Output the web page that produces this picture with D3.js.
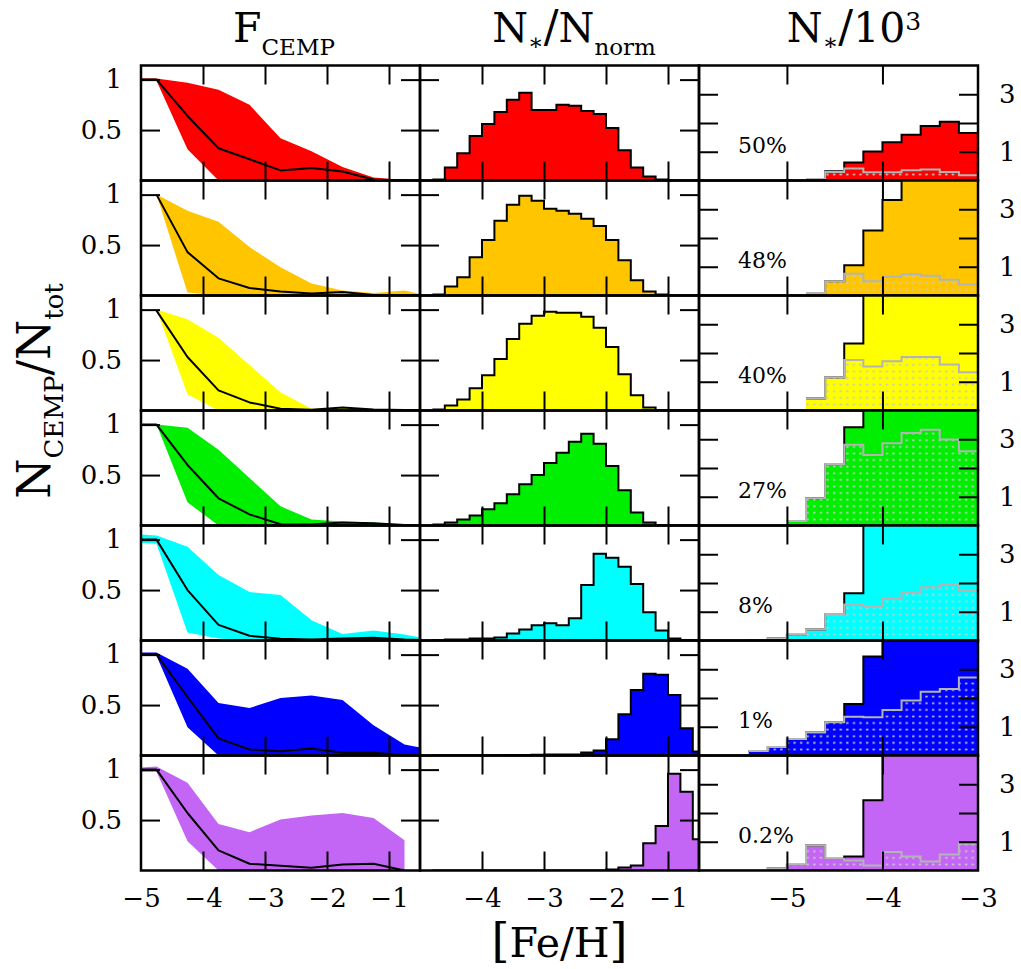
<!DOCTYPE html>
<html><head><meta charset="utf-8">
<script src="https://cdn.jsdelivr.net/npm/d3@7"></script>
<style>
body{margin:0;background:#fff}
svg{display:block}
text{font-family:"DejaVu Serif",serif;fill:#000}
</style>
</head><body>
<svg id="c" width="1021" height="969"></svg>
<script>
// ---------------- DATA ----------------
const rowColors = ["#ff0000","#ffc600","#ffff00","#00ee00","#00ffff","#0000ff","#c466f5"];
const cempPercent = ["50%","48%","40%","27%","8%","1%","0.2%"];

// Column 1: F_CEMP vs [Fe/H]
const fcempX = [-5, -4.75, -4.25, -3.75, -3.25, -2.75, -2.25, -1.75, -1.25, -0.75, -0.5];
const fcempMed = [
  [1, 1, 0.64, 0.32, 0.21, 0.10, 0.125, 0.09, 0.01, 0, 0],
  [null, 1, 0.43, 0.17, 0.075, 0.04, 0.02, 0.035, 0.005, 0, 0],
  [null, 0.99, 0.53, 0.20, 0.08, 0.017, 0.007, 0.03, 0.01, 0.005, 0.005],
  [1, 1, 0.60, 0.27, 0.11, 0.013, 0.01, 0.03, 0.023, 0.005, 0],
  [1, 1, 0.50, 0.155, 0.047, 0.017, 0.01, 0.02, 0.027, 0.01, 0.005],
  [1, 1, 0.58, 0.17, 0.06, 0.043, 0.07, 0.027, 0.027, 0.003, 0],
  [1, 1, 0.57, 0.20, 0.067, 0.047, 0.027, 0.06, 0.067, 0, null]
];
const fcempHi = [
  [1.01, 1.01, 0.97, 0.90, 0.75, 0.42, 0.29, 0.135, 0.03, 0.005, 0],
  [null, 1, 0.84, 0.73, 0.48, 0.28, 0.12, 0.05, 0.025, 0.05, 0.015],
  [null, 1, 0.905, 0.72, 0.45, 0.18, 0.017, 0.03, 0.015, 0.01, 0.017],
  [1, 1, 0.97, 0.75, 0.47, 0.19, 0.06, 0.04, 0.03, 0.01, 0.005],
  [1.05, 1.04, 0.93, 0.65, 0.48, 0.45, 0.20, 0.064, 0.098, 0.06, 0.03],
  [1.02, 1.02, 0.86, 0.52, 0.47, 0.57, 0.595, 0.55, 0.30, 0.11, 0.08],
  [1.02, 1.03, 0.87, 0.46, 0.38, 0.505, 0.545, 0.57, 0.52, 0.30, null]
];
const fcempLo = [
  [0.99, 0.99, 0.31, 0, 0, 0, 0, 0, 0, 0, 0],
  [null, 1, 0.03, 0, 0, 0, 0, 0, 0, 0, 0],
  [null, 1, 0.16, 0, 0, 0, 0, 0, 0, 0, 0],
  [1, 1, 0.23, 0, 0, 0, 0, 0, 0, 0, 0],
  [0.97, 0.96, 0.08, 0.02, 0, 0, 0, 0, 0, 0, 0],
  [0.99, 0.99, 0.28, 0, 0, 0, 0, 0, 0, 0, 0],
  [0.98, 0.98, 0.29, 0, 0, 0, 0, 0, 0, 0, null]
];

// Column 2: N*/Nnorm histograms (bin left edges, width 0.2)
const normBins = [-4.8,-4.6,-4.4,-4.2,-4.0,-3.8,-3.6,-3.4,-3.2,-3.0,-2.8,-2.6,-2.4,-2.2,-2.0,-1.8,-1.6,-1.4,-1.2,-1.0,-0.8,-0.6];
const normVals = [
  [0.01,0.13,0.27,0.44,0.56,0.68,0.80,0.87,0.70,0.70,0.75,0.74,0.69,0.66,0.52,0.30,0.13,0.04,0.01,0,0,0],
  [0.01,0.09,0.18,0.38,0.55,0.74,0.90,0.99,0.94,0.86,0.84,0.81,0.76,0.69,0.55,0.35,0.15,0.04,0.01,0,0,0],
  [0.01,0.05,0.11,0.22,0.35,0.51,0.71,0.86,0.94,0.98,0.97,0.97,0.93,0.82,0.63,0.36,0.15,0.03,0.003,0,0,0],
  [0.01,0.03,0.06,0.10,0.16,0.22,0.31,0.41,0.50,0.62,0.72,0.83,0.91,0.81,0.59,0.35,0.13,0.03,0.003,0,0,0],
  [0.003,0.01,0.01,0.02,0.02,0.03,0.07,0.11,0.15,0.17,0.15,0.22,0.55,0.86,0.82,0.73,0.56,0.28,0.10,0.02,0.005,0],
  [0,0,0,0,0,0.003,0.005,0.005,0.007,0.01,0.01,0.01,0.03,0.05,0.16,0.41,0.65,0.81,0.80,0.60,0.27,0.04],
  [0,0,0,0,0,0,0,0,0,0,0,0,0,0,0.01,0.03,0.05,0.27,0.44,0.96,0.78,0.31]
];

// Column 3: N*/10^3 histograms (bin left edges, width 0.2); total and CEMP
const numBins = [-6.0,-5.8,-5.6,-5.4,-5.2,-5.0,-4.8,-4.6,-4.4,-4.2,-4.0,-3.8,-3.6,-3.4,-3.2];
const numTotal = [
  [null,null,null,null,null,null,0.05,0.32,0.63,1.01,1.33,1.59,1.90,2.04,1.65],
  [null,null,null,null,null,null,0.09,0.5,1.05,2.26,3.32,4.6,5.2,5.6,5.9],
  [null,null,null,null,null,null,0.42,1.15,2.33,4.5,5.0,5.4,5.8,6.0,6.1],
  [null,null,null,null,null,0.16,0.95,2.14,3.42,4.6,5.2,5.6,6.0,6.2,6.3],
  [null,null,null,0.02,0.08,0.2,0.38,0.92,1.64,4.4,5.0,5.5,5.8,6.0,6.2],
  [null,null,null,0.16,0.30,0.57,0.80,1.16,1.79,3.44,4.5,5.0,5.4,5.7,6.0],
  [0.02,0.02,0.02,0.02,0.08,0.2,0.87,0.41,0.49,2.44,4.6,5.1,5.5,5.8,6.0]
];
const numCemp = [
  [null,null,null,null,null,null,0.05,0.30,0.42,0.29,0.29,0.36,0.38,0.30,0.18],
  [null,null,null,null,null,null,0.09,0.5,0.76,0.5,0.65,0.74,0.69,0.55,0.38],
  [null,null,null,null,null,null,0.42,1.15,1.76,1.53,1.71,1.86,1.86,1.6,1.33],
  [null,null,null,null,null,0.16,0.95,2.14,2.81,2.45,2.86,3.22,3.33,2.99,2.58],
  [null,null,null,0.02,0.08,0.2,0.38,0.92,1.25,1.18,1.45,1.68,1.85,1.93,1.76],
  [null,null,null,0.16,0.30,0.57,0.80,1.16,1.35,1.33,1.58,1.91,2.22,2.31,2.71],
  [0.02,0.02,0.02,0.02,0.08,0.2,0.87,0.41,0.35,0.17,0.64,0.49,0.31,0.56,0.93]
];

// Ticks and labels
const fehTicks = [-4,-3,-2,-1];
const fracTicks = [0.5, 1];
const fracLabels = ["0.5","1"];
const numXTicks = [-5,-4];
const numYTicks = [1,2,3];
const numYLabelTicks = [1,3];
const numYLabels = ["1","3"];
const col1XLabels = [-5,-4,-3,-2,-1];
const col2XLabels = [-4,-3,-2,-1];
const col3XLabels = [-5,-4,-3];

// ---------------- LAYOUT ----------------
const LEFT = 141, TOP = 65.5, PW = 279, PH = 115, TL = 19;
const BW = 0.2;
const minus = d => (d < 0 ? "\u2212" : "") + Math.abs(d);

const x1 = d3.scaleLinear().domain([-5, -0.5]).range([0, PW]);
const y1 = d3.scaleLinear().domain([0, 1.14]).range([PH, 0]);
const x3 = d3.scaleLinear().domain([-5.92, -3]).range([0, PW]);
const y3 = d3.scaleLinear().domain([0, 4]).range([PH, 0]);

const svg = d3.select("#c");
const defs = svg.append("defs");
defs.append("clipPath").attr("id","pclip").append("rect").attr("width",PW).attr("height",PH);
const pat = defs.append("pattern").attr("id","dots").attr("patternUnits","userSpaceOnUse")
  .attr("width",6.6).attr("height",6.6);
pat.append("rect").attr("x",2).attr("y",2.5).attr("width",2.3).attr("height",1.7).attr("fill","#c8c8c8");

function stepPoints(bins, vals) {
  const pts = bins.map((b,i)=>({x:b, v:vals[i]}));
  let last = -1;
  vals.forEach((v,i)=>{ if (v!=null) last = i; });
  pts.push({x: bins[last] + BW, v: vals[last]});
  return pts;
}

function frame(g, x, y, xt, yt) {
  g.append("g").call(d3.axisBottom(x).tickValues(xt).tickSize(TL).tickFormat(""));
  g.append("g").attr("transform",`translate(0,${PH})`).call(d3.axisTop(x).tickValues(xt).tickSize(TL).tickFormat(""));
  g.append("g").call(d3.axisRight(y).tickValues(yt).tickSize(TL).tickFormat(""));
  g.append("g").attr("transform",`translate(${PW},0)`).call(d3.axisLeft(y).tickValues(yt).tickSize(TL).tickFormat(""));
  g.selectAll(".domain").remove();
  g.selectAll(".tick line").attr("stroke","#000").attr("stroke-width",2);
  g.append("rect").attr("width",PW).attr("height",PH).attr("fill","none")
    .attr("stroke","#000").attr("stroke-width",2.5);
}

function styleAxis(sel, size) {
  sel.attr("font-family","DejaVu Serif, serif").attr("font-size",size);
  sel.select(".domain").remove();
  sel.selectAll("text").attr("fill","#000");
}

for (let r = 0; r < 7; r++) {
  const color = rowColors[r];
  const top = TOP + r*PH;

  // ---- column 1: F_CEMP bands ----
  const g1 = svg.append("g").attr("transform",`translate(${LEFT},${top})`);
  const c1 = g1.append("g").attr("clip-path","url(#pclip)");
  const pts = fcempX.map((x,i)=>({x, lo:fcempLo[r][i], hi:fcempHi[r][i], m:fcempMed[r][i]}));
  c1.append("path").datum(pts)
    .attr("d", d3.area().defined(d=>d.hi!=null).x(d=>x1(d.x)).y0(d=>y1(d.lo)).y1(d=>y1(d.hi)))
    .attr("fill", color);
  c1.append("path").datum(pts)
    .attr("d", d3.line().defined(d=>d.m!=null).x(d=>x1(d.x)).y(d=>y1(d.m)))
    .attr("fill","none").attr("stroke","#000").attr("stroke-width",2).attr("stroke-linejoin","round");
  frame(g1, x1, y1, fehTicks, fracTicks);
  styleAxis(g1.append("g").call(d3.axisLeft(y1).tickValues(fracTicks).tickSize(0).tickPadding(19)
    .tickFormat((d,i)=>fracLabels[i])), 26);

  // ---- column 2: normalised histograms ----
  const g2 = svg.append("g").attr("transform",`translate(${LEFT+PW},${top})`);
  const c2 = g2.append("g").attr("clip-path","url(#pclip)");
  const hp = stepPoints(normBins, normVals[r]);
  c2.append("path").datum(hp)
    .attr("d", d3.area().curve(d3.curveStepAfter).x(d=>x1(d.x)).y0(y1(0)).y1(d=>y1(d.v)))
    .attr("fill", color);
  c2.append("path").datum(hp)
    .attr("d", d3.line().curve(d3.curveStepAfter).x(d=>x1(d.x)).y(d=>y1(d.v)))
    .attr("fill","none").attr("stroke","#000").attr("stroke-width",2);
  frame(g2, x1, y1, fehTicks, fracTicks);

  // ---- column 3: number histograms ----
  const g3 = svg.append("g").attr("transform",`translate(${LEFT+2*PW},${top})`);
  const c3 = g3.append("g").attr("clip-path","url(#pclip)");
  const tp = stepPoints(numBins, numTotal[r]);
  const cp = stepPoints(numBins, numCemp[r]);
  const ar = d3.area().defined(d=>d.v!=null).curve(d3.curveStepAfter).x(d=>x3(d.x)).y0(y3(0)).y1(d=>y3(d.v));
  const ln = d3.line().defined(d=>d.v!=null).curve(d3.curveStepAfter).x(d=>x3(d.x)).y(d=>y3(d.v));
  c3.append("path").datum(tp).attr("d", ar).attr("fill", color);
  c3.append("path").datum(tp).attr("d", ln).attr("fill","none").attr("stroke","#000").attr("stroke-width",2);
  c3.append("path").datum(cp).attr("d", ar).attr("fill", "url(#dots)");
  c3.append("path").datum(cp).attr("d", ln).attr("fill","none").attr("stroke","#b4b4b4").attr("stroke-width",2);
  frame(g3, x3, y3, numXTicks, numYTicks);
  styleAxis(g3.append("g").attr("transform",`translate(${PW},0)`)
    .call(d3.axisRight(y3).tickValues(numYLabelTicks).tickSize(0).tickPadding(21)
      .tickFormat((d,i)=>numYLabels[i])), 26);
  g3.append("text").attr("x",39).attr("y",PH-28).attr("font-size",22).text(cempPercent[r]);

  if (r === 6) {
    styleAxis(g1.append("g").attr("transform",`translate(0,${PH})`)
      .call(d3.axisBottom(x1).tickValues(col1XLabels).tickSize(0).tickPadding(18).tickFormat(minus)), 26);
    styleAxis(g2.append("g").attr("transform",`translate(0,${PH})`)
      .call(d3.axisBottom(x1).tickValues(col2XLabels).tickSize(0).tickPadding(18).tickFormat(minus)), 26);
    styleAxis(g3.append("g").attr("transform",`translate(0,${PH})`)
      .call(d3.axisBottom(x3).tickValues(col3XLabels).tickSize(0).tickPadding(18).tickFormat(minus)), 26);
  }
}

// ---------------- TITLES ----------------
const t1 = svg.append("text").attr("x",284).attr("y",41.7).attr("text-anchor","middle").attr("font-size",41);
t1.append("tspan").text("F");
t1.append("tspan").attr("font-size",23).attr("dy",13).text("CEMP");

const t2 = svg.append("text").attr("x",574).attr("y",41.7).attr("text-anchor","middle").attr("font-size",41);
t2.append("tspan").text("N");
t2.append("tspan").attr("font-size",23).attr("dy",8).text("\u2217");
t2.append("tspan").attr("dy",-8).attr("font-size",44).text("/");
t2.append("tspan").text("N");
t2.append("tspan").attr("font-size",23).attr("dy",13).text("norm");

const t3 = svg.append("text").attr("x",854).attr("y",41.7).attr("text-anchor","middle").attr("font-size",41);
t3.append("tspan").text("N");
t3.append("tspan").attr("font-size",23).attr("dy",8).text("\u2217");
t3.append("tspan").attr("dy",-8).attr("font-size",44).text("/");
t3.append("tspan").text("10");
t3.append("tspan").attr("font-size",25).attr("dy",-12).text("3");

const yl = svg.append("text").attr("transform","translate(50,391) rotate(-90)").attr("text-anchor","middle").attr("font-size",46);
yl.append("tspan").text("N");
yl.append("tspan").attr("font-size",26).attr("dy",13).text("CEMP");
yl.append("tspan").attr("dy",-13).text("/");
yl.append("tspan").text("N");
yl.append("tspan").attr("font-size",26).attr("dy",13).text("tot");

const xl = svg.append("text").attr("x",559.5).attr("y",957).attr("text-anchor","middle").attr("font-size",41);
xl.append("tspan").attr("font-size",46).text("[");
xl.append("tspan").text("Fe/H");
xl.append("tspan").attr("font-size",46).text("]");
</script>
</body></html>
